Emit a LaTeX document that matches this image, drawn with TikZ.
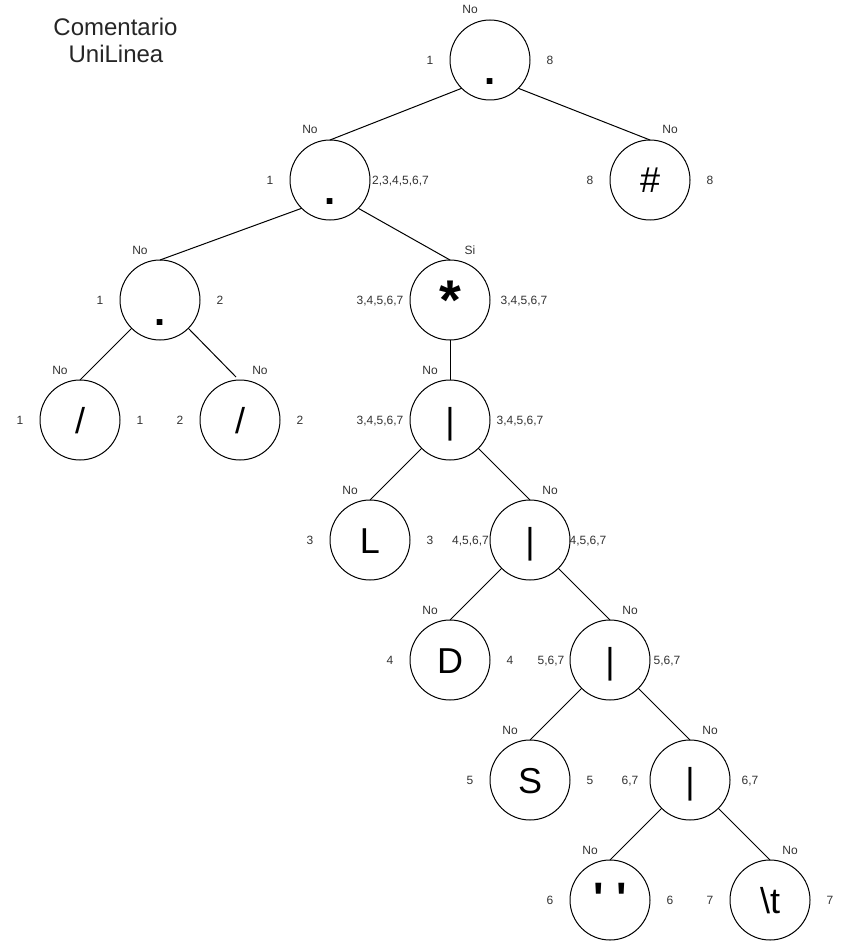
\documentclass[tikz,border=0pt]{standalone}
\usepackage{fontspec}
\setmainfont{Liberation Sans}
\newfontfamily\qfont{Liberation Sans}[Ligatures=TeXOff]
\definecolor{lblcol}{HTML}{333333}
\tikzset{
  tn/.style={draw, circle, minimum size=80pt, inner sep=0pt, outer sep=0pt, line width=1pt,
    font=\fontsize{36}{36}\selectfont, text height=26pt, text depth=0pt},
  dotglyph/.style={font=\fontsize{40}{40}\selectfont\bfseries, text height=50pt},
  starglyph/.style={font=\fontsize{56}{56}\selectfont\bfseries, text height=38pt},
  quoteglyph/.style={font=\fontsize{44}{44}\selectfont\qfont\bfseries},
  lbl/.style={anchor=base, inner sep=0pt, font=\fontsize{12}{14}\selectfont, text=lblcol},
  ttl/.style={anchor=base, inner sep=0pt, font=\fontsize{24}{27}\selectfont, text=black!85},
  edge/.style={line width=1pt}
}
\begin{document}
\begin{tikzpicture}[x=1pt,y=-1pt]
\useasboundingbox (0,0) rectangle (851,941);
\fill[white] (0,0) rectangle (851,941);

% title
\node[ttl] (title1) at (115.5,36) {Comentario};
\node[ttl] (title2) at (116,63) {UniLinea};

% nodes
\node[tn,dotglyph] (root) at (490,60) {.};
\node[lbl] (root-t) at (470,14) {No};
\node[lbl] (root-l) at (430,64.5) {1};
\node[lbl] (root-r) at (550,64.5) {8};

\node[tn,dotglyph] (n2) at (330,180) {.};
\node[lbl] (n2-t) at (310,134) {No};
\node[lbl] (n2-l) at (270,184.5) {1};
\node[lbl] (n2-r) at (400.5,184.5) {2,3,4,5,6,7};

\node[tn] (hash) at (650,180) {\#};
\node[lbl] (hash-t) at (670,134) {No};
\node[lbl] (hash-l) at (590,184.5) {8};
\node[lbl] (hash-r) at (710,184.5) {8};

\node[tn,dotglyph] (n3) at (160,300) {.};
\node[lbl] (n3-t) at (140,254) {No};
\node[lbl] (n3-l) at (100,304.5) {1};
\node[lbl] (n3-r) at (220,304.5) {2};

\node[tn,starglyph] (star) at (450,300) {*};
\node[lbl] (star-t) at (470,254) {Si};
\node[lbl] (star-l) at (380,304.5) {3,4,5,6,7};
\node[lbl] (star-r) at (524,304.5) {3,4,5,6,7};

\node[tn] (slashL) at (80,420) {/};
\node[lbl] (slashL-t) at (60,374) {No};
\node[lbl] (slashL-l) at (20,424.5) {1};
\node[lbl] (slashL-r) at (140,424.5) {1};

\node[tn] (slashR) at (240,420) {/};
\node[lbl] (slashR-t) at (260,374) {No};
\node[lbl] (slashR-l) at (180,424.5) {2};
\node[lbl] (slashR-r) at (300,424.5) {2};

\node[tn] (bar1) at (450,420) {|};
\node[lbl] (bar1-t) at (430,374) {No};
\node[lbl] (bar1-l) at (380,424.5) {3,4,5,6,7};
\node[lbl] (bar1-r) at (520,424.5) {3,4,5,6,7};

\node[tn] (nL) at (370,540) {L};
\node[lbl] (nL-t) at (350,494) {No};
\node[lbl] (nL-l) at (310,544.5) {3};
\node[lbl] (nL-r) at (430,544.5) {3};

\node[tn] (bar2) at (530,540) {|};
\node[lbl] (bar2-t) at (550,494) {No};
\node[lbl] (bar2-l) at (470.5,544.5) {4,5,6,7};
\node[lbl] (bar2-r) at (588,544.5) {4,5,6,7};

\node[tn] (nD) at (450,660) {D};
\node[lbl] (nD-t) at (430,614) {No};
\node[lbl] (nD-l) at (390,664.5) {4};
\node[lbl] (nD-r) at (510,664.5) {4};

\node[tn] (bar3) at (610,660) {|};
\node[lbl] (bar3-t) at (630,614) {No};
\node[lbl] (bar3-l) at (551,664.5) {5,6,7};
\node[lbl] (bar3-r) at (667,664.5) {5,6,7};

\node[tn] (nS) at (530,780) {S};
\node[lbl] (nS-t) at (510,734) {No};
\node[lbl] (nS-l) at (470,784.5) {5};
\node[lbl] (nS-r) at (590,784.5) {5};

\node[tn] (bar4) at (690,780) {|};
\node[lbl] (bar4-t) at (710,734) {No};
\node[lbl] (bar4-l) at (630,784.5) {6,7};
\node[lbl] (bar4-r) at (750,784.5) {6,7};

\node[tn,quoteglyph] (quote) at (610,900) {' '};
\node[lbl] (quote-t) at (590,854) {No};
\node[lbl] (quote-l) at (550,904.5) {6};
\node[lbl] (quote-r) at (670,904.5) {6};

\node[tn] (tab) at (770,900) {\textbackslash t};
\node[lbl] (tab-t) at (790,854) {No};
\node[lbl] (tab-l) at (710,904.5) {7};
\node[lbl] (tab-r) at (830,904.5) {7};

% edges
\coordinate (slashRend) at (236,377);
\draw[edge] (root.south west) -- (n2.north);
\draw[edge] (root.south east) -- (hash.north);
\draw[edge] (n2.south west) -- (n3.north);
\draw[edge] (n2.south east) -- (star.north);
\draw[edge] (n3.south west) -- (slashL.north);
\draw[edge] (n3.south east) -- (slashRend);
\draw[edge] (star.south) -- (bar1.north);
\draw[edge] (bar1.south west) -- (nL.north);
\draw[edge] (bar1.south east) -- (bar2.north);
\draw[edge] (bar2.south west) -- (nD.north);
\draw[edge] (bar2.south east) -- (bar3.north);
\draw[edge] (bar3.south west) -- (nS.north);
\draw[edge] (bar3.south east) -- (bar4.north);
\draw[edge] (bar4.south west) -- (quote.north);
\draw[edge] (bar4.south east) -- (tab.north);
\end{tikzpicture}
\end{document}
